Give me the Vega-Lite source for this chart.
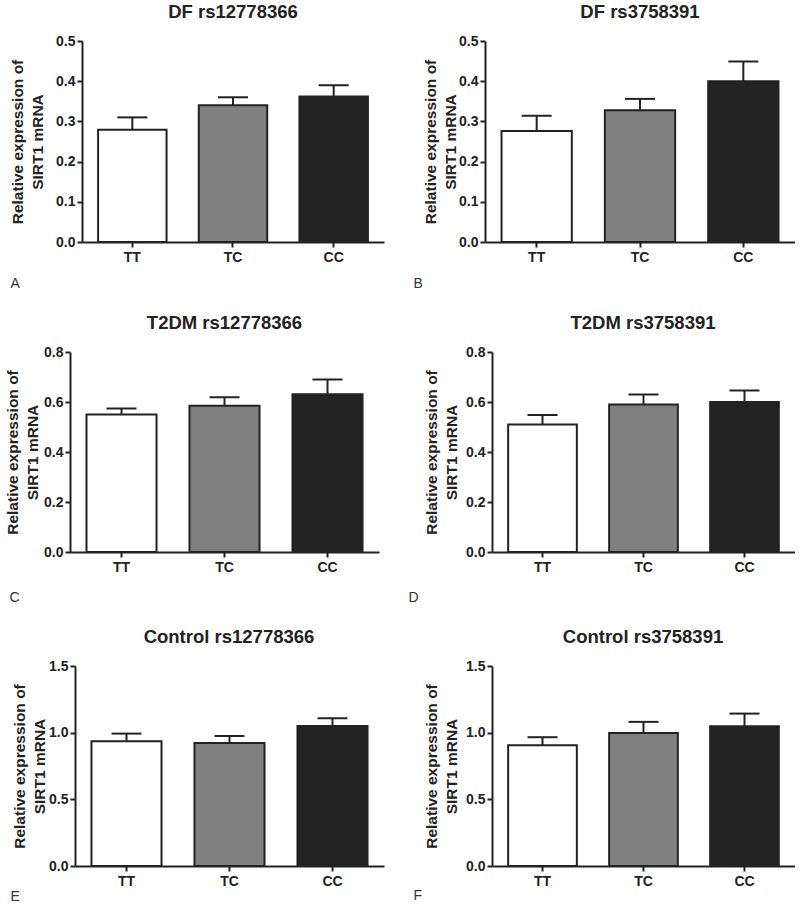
{
  "$schema": "https://vega.github.io/schema/vega-lite/v6.json",
  "background": "white",
  "padding": {"left": 5, "top": 2, "right": 0, "bottom": 0},
  "datasets": {
    "d": [
      {"panel": "A", "genotype": "TT", "mean": 0.279, "upper": 0.31},
      {"panel": "A", "genotype": "TC", "mean": 0.34, "upper": 0.36},
      {"panel": "A", "genotype": "CC", "mean": 0.362, "upper": 0.39},
      {"panel": "B", "genotype": "TT", "mean": 0.276, "upper": 0.314},
      {"panel": "B", "genotype": "TC", "mean": 0.328, "upper": 0.356},
      {"panel": "B", "genotype": "CC", "mean": 0.40, "upper": 0.449},
      {"panel": "C", "genotype": "TT", "mean": 0.55, "upper": 0.574},
      {"panel": "C", "genotype": "TC", "mean": 0.585, "upper": 0.619},
      {"panel": "C", "genotype": "CC", "mean": 0.631, "upper": 0.69},
      {"panel": "D", "genotype": "TT", "mean": 0.51, "upper": 0.548},
      {"panel": "D", "genotype": "TC", "mean": 0.59, "upper": 0.63},
      {"panel": "D", "genotype": "CC", "mean": 0.60, "upper": 0.646},
      {"panel": "E", "genotype": "TT", "mean": 0.935, "upper": 0.993},
      {"panel": "E", "genotype": "TC", "mean": 0.922, "upper": 0.975},
      {"panel": "E", "genotype": "CC", "mean": 1.05, "upper": 1.108},
      {"panel": "F", "genotype": "TT", "mean": 0.906, "upper": 0.966},
      {"panel": "F", "genotype": "TC", "mean": 0.998, "upper": 1.081},
      {"panel": "F", "genotype": "CC", "mean": 1.048, "upper": 1.143}
    ]
  },
  "data": {"name": "d"},
  "config": {
    "font": "Liberation Sans",
    "view": {"stroke": null},
    "title": {"fontSize": 18.5, "fontWeight": "bold", "color": "#222", "offset": 13, "anchor": "middle"},
    "axis": {
      "grid": false,
      "domainColor": "#222",
      "domainWidth": 2,
      "tickColor": "#222",
      "tickWidth": 2,
      "tickSize": 5,
      "labelColor": "#222",
      "labelFont": "Liberation Sans",
      "labelFontWeight": "bold",
      "labelFontSize": 14,
      "labelPadding": 2
    },
    "axisX": {
      "labelAngle": 0,
      "labelPadding": 3,
      "titleFontWeight": "normal",
      "titleFontSize": 14,
      "titleColor": "#333",
      "titleAnchor": "start",
      "titleAlign": "left",
      "titleBaseline": "middle"
    },
    "axisY": {
      "titleFontSize": 15.5,
      "titleFontWeight": "bold",
      "titleColor": "#222",
      "titleLineHeight": 20
    }
  },
  "columns": 2,
  "spacing": {"row": 23, "column": 24},
  "concat": [
    {
      "width": 314, "height": 201,
      "title": {"text": "DF rs12778366", "dx": 6},
      "transform": [{"filter": "datum.panel === 'A'"}],
      "encoding": {
        "x": {"field": "genotype", "type": "nominal", "sort": ["TT", "TC", "CC"],
              "scale": {"range": [12, 314], "paddingInner": 0.32, "paddingOuter": 0.16},
              "axis": {"title": "A", "titleX": -60, "titleY": 41}}
      },
      "layer": [
        {"mark": {"type": "bar", "stroke": "#222", "strokeWidth": 2},
         "encoding": {
           "y": {"field": "mean", "type": "quantitative", "scale": {"domain": [0, 0.5], "nice": false},
                 "axis": {"values": [0, 0.1, 0.2, 0.3, 0.4, 0.5], "format": ".1f", "offset": -12, "titlePadding": 10, "title": ["Relative expression of", "SIRT1 mRNA"]}},
           "fill": {"field": "genotype", "type": "nominal", "scale": {"domain": ["TT", "TC", "CC"], "range": ["#ffffff", "#808080", "#222222"]}, "legend": null}
         }},
        {"mark": {"type": "rule", "strokeWidth": 2, "color": "#222"},
         "encoding": {"y": {"field": "mean", "type": "quantitative"}, "y2": {"field": "upper"}}},
        {"mark": {"type": "tick", "size": 30, "thickness": 2, "color": "#222", "opacity": 1},
         "encoding": {"y": {"field": "upper", "type": "quantitative"}}}
      ]
    },
    {
      "width": 310, "height": 201,
      "title": {"text": "DF rs3758391"},
      "transform": [{"filter": "datum.panel === 'B'"}],
      "encoding": {
        "x": {"field": "genotype", "type": "nominal", "sort": ["TT", "TC", "CC"],
              "scale": {"range": [0, 310], "paddingInner": 0.32, "paddingOuter": 0.16},
              "axis": {"title": "B", "titleX": -72, "titleY": 41}}
      },
      "layer": [
        {"mark": {"type": "bar", "stroke": "#222", "strokeWidth": 2},
         "encoding": {
           "y": {"field": "mean", "type": "quantitative", "scale": {"domain": [0, 0.5], "nice": false},
                 "axis": {"values": [0, 0.1, 0.2, 0.3, 0.4, 0.5], "format": ".1f", "titlePadding": 0, "title": ["Relative expression of", "SIRT1 mRNA"]}},
           "fill": {"field": "genotype", "type": "nominal", "scale": {"domain": ["TT", "TC", "CC"], "range": ["#ffffff", "#808080", "#222222"]}, "legend": null}
         }},
        {"mark": {"type": "rule", "strokeWidth": 2, "color": "#222"},
         "encoding": {"y": {"field": "mean", "type": "quantitative"}, "y2": {"field": "upper"}}},
        {"mark": {"type": "tick", "size": 30, "thickness": 2, "color": "#222", "opacity": 1},
         "encoding": {"y": {"field": "upper", "type": "quantitative"}}}
      ]
    },
    {
      "width": 309, "height": 200,
      "title": {"text": "T2DM rs12778366"},
      "transform": [{"filter": "datum.panel === 'C'"}],
      "encoding": {
        "x": {"field": "genotype", "type": "nominal", "sort": ["TT", "TC", "CC"],
              "scale": {"range": [0, 309], "paddingInner": 0.32, "paddingOuter": 0.16},
              "axis": {"title": "C", "titleX": -61, "titleY": 45}}
      },
      "layer": [
        {"mark": {"type": "bar", "stroke": "#222", "strokeWidth": 2},
         "encoding": {
           "y": {"field": "mean", "type": "quantitative", "scale": {"domain": [0, 0.8], "nice": false},
                 "axis": {"values": [0, 0.2, 0.4, 0.6, 0.8], "format": ".1f", "titlePadding": 3, "title": ["Relative expression of", "SIRT1 mRNA"]}},
           "fill": {"field": "genotype", "type": "nominal", "scale": {"domain": ["TT", "TC", "CC"], "range": ["#ffffff", "#808080", "#222222"]}, "legend": null}
         }},
        {"mark": {"type": "rule", "strokeWidth": 2, "color": "#222"},
         "encoding": {"y": {"field": "mean", "type": "quantitative"}, "y2": {"field": "upper"}}},
        {"mark": {"type": "tick", "size": 30, "thickness": 2, "color": "#222", "opacity": 1},
         "encoding": {"y": {"field": "upper", "type": "quantitative"}}}
      ]
    },
    {
      "width": 310, "height": 200,
      "title": {"text": "T2DM rs3758391", "dx": 3},
      "transform": [{"filter": "datum.panel === 'D'"}],
      "encoding": {
        "x": {"field": "genotype", "type": "nominal", "sort": ["TT", "TC", "CC"],
              "scale": {"range": [7, 310], "paddingInner": 0.32, "paddingOuter": 0.16},
              "axis": {"title": "D", "titleX": -77, "titleY": 45}}
      },
      "layer": [
        {"mark": {"type": "bar", "stroke": "#222", "strokeWidth": 2},
         "encoding": {
           "y": {"field": "mean", "type": "quantitative", "scale": {"domain": [0, 0.8], "nice": false},
                 "axis": {"values": [0, 0.2, 0.4, 0.6, 0.8], "format": ".1f", "offset": -7, "titlePadding": 6, "title": ["Relative expression of", "SIRT1 mRNA"]}},
           "fill": {"field": "genotype", "type": "nominal", "scale": {"domain": ["TT", "TC", "CC"], "range": ["#ffffff", "#808080", "#222222"]}, "legend": null}
         }},
        {"mark": {"type": "rule", "strokeWidth": 2, "color": "#222"},
         "encoding": {"y": {"field": "mean", "type": "quantitative"}, "y2": {"field": "upper"}}},
        {"mark": {"type": "tick", "size": 30, "thickness": 2, "color": "#222", "opacity": 1},
         "encoding": {"y": {"field": "upper", "type": "quantitative"}}}
      ]
    },
    {
      "width": 314, "height": 200,
      "title": {"text": "Control rs12778366", "dx": 2},
      "transform": [{"filter": "datum.panel === 'E'"}],
      "encoding": {
        "x": {"field": "genotype", "type": "nominal", "sort": ["TT", "TC", "CC"],
              "scale": {"range": [5, 314], "paddingInner": 0.32, "paddingOuter": 0.16},
              "axis": {"title": "E", "titleX": -60, "titleY": 30}}
      },
      "layer": [
        {"mark": {"type": "bar", "stroke": "#222", "strokeWidth": 2},
         "encoding": {
           "y": {"field": "mean", "type": "quantitative", "scale": {"domain": [0, 1.5], "nice": false},
                 "axis": {"values": [0, 0.5, 1, 1.5], "format": ".1f", "offset": -5, "titlePadding": 1, "title": ["Relative expression of", "SIRT1 mRNA"]}},
           "fill": {"field": "genotype", "type": "nominal", "scale": {"domain": ["TT", "TC", "CC"], "range": ["#ffffff", "#808080", "#222222"]}, "legend": null}
         }},
        {"mark": {"type": "rule", "strokeWidth": 2, "color": "#222"},
         "encoding": {"y": {"field": "mean", "type": "quantitative"}, "y2": {"field": "upper"}}},
        {"mark": {"type": "tick", "size": 30, "thickness": 2, "color": "#222", "opacity": 1},
         "encoding": {"y": {"field": "upper", "type": "quantitative"}}}
      ]
    },
    {
      "width": 310, "height": 200,
      "title": {"text": "Control rs3758391", "dx": 3},
      "transform": [{"filter": "datum.panel === 'F'"}],
      "encoding": {
        "x": {"field": "genotype", "type": "nominal", "sort": ["TT", "TC", "CC"],
              "scale": {"range": [7, 310], "paddingInner": 0.32, "paddingOuter": 0.16},
              "axis": {"title": "F", "titleX": -72, "titleY": 29}}
      },
      "layer": [
        {"mark": {"type": "bar", "stroke": "#222", "strokeWidth": 2},
         "encoding": {
           "y": {"field": "mean", "type": "quantitative", "scale": {"domain": [0, 1.5], "nice": false},
                 "axis": {"values": [0, 0.5, 1, 1.5], "format": ".1f", "offset": -7, "titlePadding": 6, "title": ["Relative expression of", "SIRT1 mRNA"]}},
           "fill": {"field": "genotype", "type": "nominal", "scale": {"domain": ["TT", "TC", "CC"], "range": ["#ffffff", "#808080", "#222222"]}, "legend": null}
         }},
        {"mark": {"type": "rule", "strokeWidth": 2, "color": "#222"},
         "encoding": {"y": {"field": "mean", "type": "quantitative"}, "y2": {"field": "upper"}}},
        {"mark": {"type": "tick", "size": 30, "thickness": 2, "color": "#222", "opacity": 1},
         "encoding": {"y": {"field": "upper", "type": "quantitative"}}}
      ]
    }
  ]
}
